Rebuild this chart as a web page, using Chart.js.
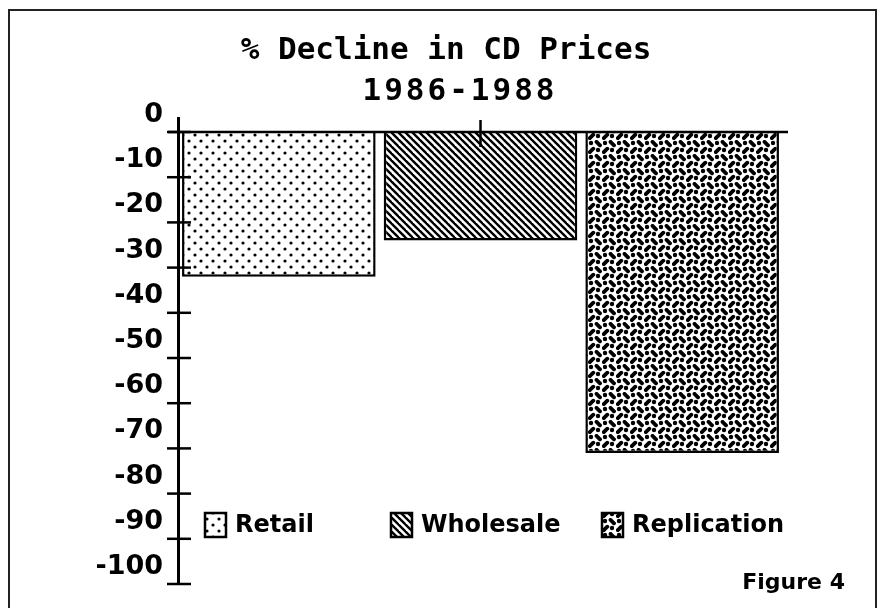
<!DOCTYPE html>
<html>
<head>
<meta charset="utf-8">
<title>% Decline in CD Prices</title>
<script src="https://cdn.jsdelivr.net/npm/chart.js@4"></script>
<style>
  html, body { margin: 0; padding: 0; background: #fff; }
  #wrap { width: 883px; height: 608px; }
</style>
</head>
<body>
<div id="wrap"><canvas id="myChart" width="883" height="608"></canvas></div>
<script>
// Dados do gráfico
var categories = ['Retail', 'Wholesale', 'Replication'];
var declines = [-32, -24, -71];
var yTicks = [0, -10, -20, -30, -40, -50, -60, -70, -80, -90, -100];
var titleLines = ['% Decline in CD Prices', '1986-1988'];
var figureLabel = 'Figure 4';

// Padrões de preenchimento (bitmap antigo)
function makeTile(size, draw) {
    var c = document.createElement('canvas');
    c.width = size;
    c.height = size;
    var g = c.getContext('2d');
    g.fillStyle = '#fff';
    g.fillRect(0, 0, size, size);
    g.fillStyle = '#000';
    g.strokeStyle = '#000';
    draw(g, size);
    return document.getElementById('myChart').getContext('2d').createPattern(c, 'repeat');
}

function dot(g, x, y, r) {
    g.beginPath();
    g.arc(x, y, r, 0, Math.PI * 2);
    g.fill();
}

var dotsPattern = makeTile(12, function (g) {
    dot(g, 3, 3, 1.6);
    dot(g, 9, 9, 1.6);
});

var hatchPattern = makeTile(7, function (g, s) {
    g.lineWidth = 2.4;
    for (var k = -1; k <= 1; k++) {
        g.beginPath();
        g.moveTo(k * s - 1, -1);
        g.lineTo(k * s + s + 1, s + 1);
        g.stroke();
    }
});

var weavePattern = makeTile(14, function (g) {
    g.lineWidth = 3.8;
    g.lineCap = 'round';
    dot(g, 3, 3, 2.2);
    g.beginPath(); g.moveTo(8.5, 1.8); g.lineTo(12, 5.3); g.stroke();
    dot(g, 10, 10, 2.2);
    g.beginPath(); g.moveTo(1.8, 12.2); g.lineTo(5.3, 8.7); g.stroke();
});

var patterns = [dotsPattern, hatchPattern, weavePattern];

// Moldura, título, linha do zero, marcas dos eixos, legenda e rótulo da figura
var decorPlugin = {
    id: 'decor',
    beforeDraw: function (chart) {
        var ctx = chart.ctx;
        ctx.save();
        ctx.fillStyle = '#fff';
        ctx.fillRect(0, 0, chart.width, chart.height);
        ctx.strokeStyle = '#222';
        ctx.lineWidth = 2;
        ctx.beginPath();
        ctx.moveTo(9, chart.height);
        ctx.lineTo(9, 10);
        ctx.lineTo(876, 10);
        ctx.lineTo(876, chart.height);
        ctx.stroke();

        // título em duas linhas
        ctx.fillStyle = '#000';
        ctx.textAlign = 'center';
        ctx.textBaseline = 'middle';
        ctx.font = 'bold 31px "DejaVu Sans Mono"';
        ctx.fillText(titleLines[0], 446, 51);
        if ('letterSpacing' in ctx) ctx.letterSpacing = '3px';
        ctx.fillText(titleLines[1], 460, 92);
        if ('letterSpacing' in ctx) ctx.letterSpacing = '0px';
        ctx.restore();
    },
    afterDatasetsDraw: function (chart) {
        var ctx = chart.ctx;
        var area = chart.chartArea;
        var y = chart.scales.y;
        var x = chart.scales.x;
        var zeroY = y.getPixelForValue(0);
        ctx.save();
        ctx.strokeStyle = '#000';
        ctx.lineWidth = 2.5;
        // linha do zero
        ctx.beginPath();
        ctx.moveTo(area.left - 10, zeroY);
        ctx.lineTo(area.right + 5, zeroY);
        ctx.stroke();
        // marcas do eixo y, cruzando o eixo
        yTicks.forEach(function (v) {
            var py = y.getPixelForValue(v);
            ctx.beginPath();
            ctx.moveTo(area.left - 11, py);
            ctx.lineTo(area.left + 13, py);
            ctx.stroke();
        });
        // marca central do eixo de categorias
        var cx = x.getPixelForValue(1);
        ctx.beginPath();
        ctx.moveTo(cx, zeroY - 12);
        ctx.lineTo(cx, zeroY + 15);
        ctx.stroke();
        ctx.restore();
    },
    afterDraw: function (chart) {
        var ctx = chart.ctx;
        var area = chart.chartArea;
        var legendX = [27, 213, 424];
        var top = 513;
        ctx.save();
        ctx.font = 'bold 24px "DejaVu Sans"';
        ctx.textBaseline = 'middle';
        ctx.textAlign = 'left';
        categories.forEach(function (name, i) {
            var bx = area.left + legendX[i];
            ctx.fillStyle = patterns[i];
            ctx.fillRect(bx, top, 21, 24);
            ctx.strokeStyle = '#000';
            ctx.lineWidth = 2.5;
            ctx.strokeRect(bx, top, 21, 24);
            ctx.fillStyle = '#000';
            ctx.fillText(name, bx + 30, top + 13);
        });
        ctx.font = 'bold 22px "DejaVu Sans"';
        ctx.textAlign = 'right';
        ctx.fillText(figureLabel, 845, 583);
        ctx.restore();
    }
};

var config = {
    type: 'bar',
    data: {
        labels: categories,
        datasets: [{
            label: 'Decline',
            data: declines,
            backgroundColor: patterns,
            borderColor: '#000',
            borderWidth: 2.5,
            barPercentage: 0.96,
            categoryPercentage: 1.0
        }]
    },
    options: {
        responsive: false,
        animation: false,
        layout: {
            padding: { left: 10, right: 100, top: 118, bottom: 24 }
        },
        plugins: {
            legend: { display: false },
            tooltip: { enabled: false },
            title: { display: false }
        },
        scales: {
            x: {
                display: false
            },
            y: {
                min: -100,
                max: 3.1,
                afterBuildTicks: function (scale) {
                    scale.ticks = yTicks.map(function (v) { return { value: v }; });
                },
                afterFit: function (scale) {
                    scale.width = 168;
                    scale.paddingTop = 0;
                    scale.paddingBottom = 0;
                },
                grid: { display: false, drawTicks: false },
                border: { display: true, color: '#000', width: 3 },
                ticks: {
                    color: '#000',
                    padding: 15,
                    labelOffset: -17,
                    font: { family: '"DejaVu Sans"', weight: 'bold', size: 27 }
                }
            }
        }
    },
    plugins: [decorPlugin]
};

// Renderização do gráfico
var ctx = document.getElementById('myChart').getContext('2d');
new Chart(ctx, config);
</script>
</body>
</html>
